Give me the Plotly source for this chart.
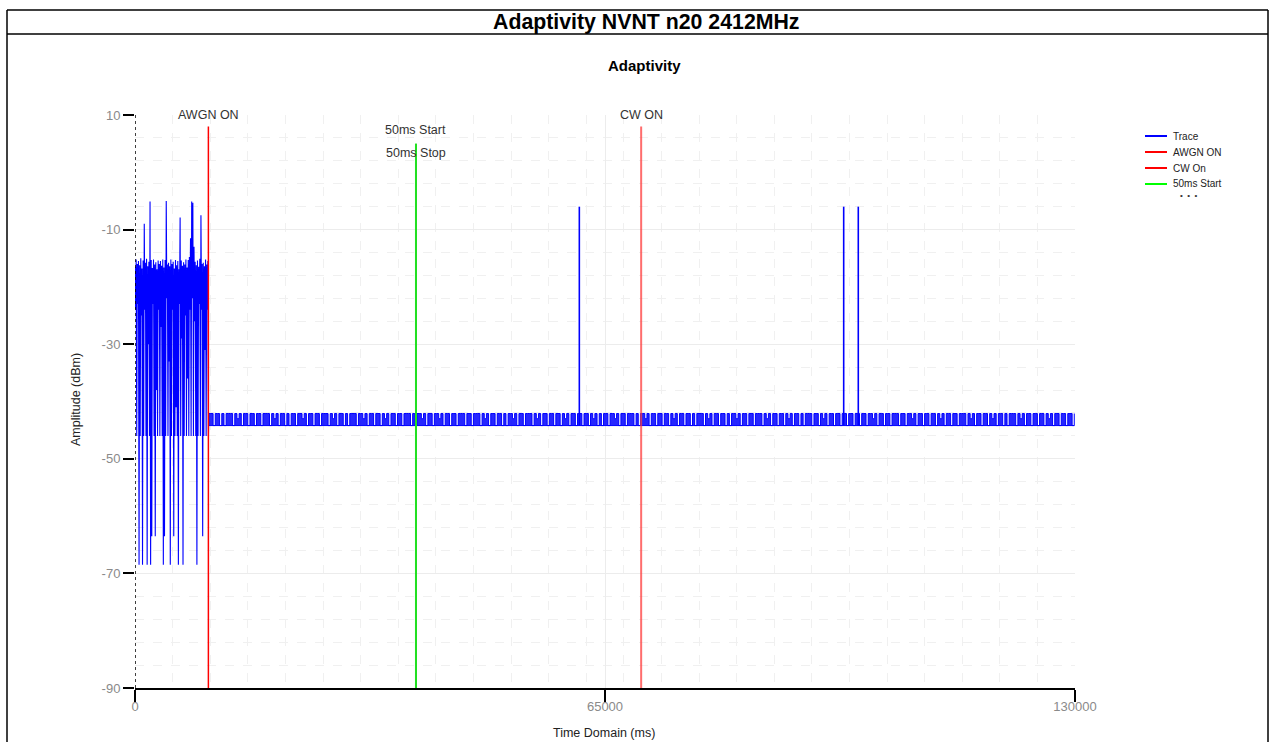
import plotly.graph_objects as go

# ---------------- data ----------------
# Trace: AWGN segment (sampled every 80 ms from 0 ms)
AWGN_STEP_MS = 80
awgn_amp = [
    -16.5, -24, -15.2, -46, -16, -23, -15.5, -68.5, -16.2, -46,
    -15, -25, -16.8, -68.5, -15.4, -46, -9, -24, -15.8, -46,
    -15.1, -68.5, -16.4, -30, -15.6, -46, -5.1, -68.5, -15.3, -63.5,
    -16.7, -23, -15.2, -46, -16.1, -63.5, -15.7, -38, -16.9, -46,
    -15.4, -24, -16, -46, -15.5, -27, -16.3, -46, -15.2, -68.5,
    -16.6, -63.5, -15.3, -46, -5, -22, -16.1, -46, -15.8, -33,
    -16.4, -68.5, -15.2, -46, -16, -24, -15.6, -63.5, -16.8, -46,
    -15.3, -41, -16.2, -46, -15.5, -68.5, -16.9, -23, -7.9, -46,
    -15.4, -29, -16.3, -68.5, -15.7, -46, -16.1, -25, -15.2, -46,
    -16.6, -36, -15.3, -46, -14.8, -24, -11.5, -46, -5.1, -22,
    -5.3, -46, -13, -26, -15.6, -46, -16.2, -68.5, -15.4, -46,
    -16.5, -23, -15.1, -46, -7.5, -24, -16, -63.5, -15.8, -46,
    -16.4, -31, -15.2, -46, -16.1, -24, -15.5, -46,
]

# Trace: idle segment (sampled every 300 ms from 10200 ms)
IDLE_START_MS = 10200
IDLE_STEP_MS = 300
idle_amp = [
    -42.1, -42.1, -44.2, -42.1, -42.1, -44.2, -42.1, -44.2, -42.1, -42.1, -42.1, -44.2, -42.1, -43.0, -42.1, -44.2, -42.1, -42.1, -44.2, -42.1,
    -42.1, -44.2, -42.1, -42.1, -44.2, -42.1, -42.1, -42.1, -44.2, -42.1, -43.0, -42.1, -44.2, -42.1, -42.1, -44.2, -42.1, -44.2, -42.1, -42.1,
    -44.2, -42.1, -42.1, -43.0, -42.1, -44.2, -42.1, -42.1, -44.2, -42.1, -42.1, -44.2, -42.1, -42.1, -42.1, -44.2, -42.1, -43.0, -42.1, -44.2,
    -42.1, -42.1, -44.2, -42.1, -44.2, -42.1, -42.1, -42.1, -44.2, -42.1, -42.1, -43.0, -42.1, -44.2, -42.1, -42.1, -44.2, -42.1, -42.1, -44.2,
    -42.1, -43.0, -42.1, -44.2, -42.1, -42.1, -44.2, -42.1, -42.1, -44.2, -42.1, -42.1, -42.1, -44.2, -42.1, -44.2, -42.1, -42.1, -43.0, -42.1,
    -44.2, -42.1, -42.1, -44.2, -42.1, -42.1, -43.0, -42.1, -44.2, -42.1, -42.1, -44.2, -42.1, -42.1, -44.2, -42.1, -42.1, -42.1, -44.2, -42.1,
    -42.1, -44.2, -42.1, -42.1, -42.1, -44.2, -42.1, -43.0, -42.1, -44.2, -42.1, -42.1, -44.2, -42.1, -42.1, -44.2, -42.1, -44.2, -42.1, -42.1,
    -43.0, -42.1, -44.2, -42.1, -42.1, -44.2, -42.1, -42.1, -42.1, -44.2, -42.1, -43.0, -42.1, -44.2, -42.1, -42.1, -44.2, -42.1, -42.1, -44.2,
    -42.1, -42.1, -44.2, -42.1, -43.0, -42.1, -44.2, -42.1, -42.1, -44.2, -42.1, -42.1, -44.2, -42.1, -42.1, -44.2, -42.1, -43.0, -42.1, -44.2,
    -42.1, -44.2, -42.1, -42.1, -44.2, -42.1, -42.1, -43.0, -42.1, -44.2, -42.1, -42.1, -44.2, -42.1, -42.1, -42.1, -44.2, -42.1, -44.2, -42.1,
    -42.1, -43.0, -42.1, -44.2, -42.1, -42.1, -44.2, -42.1, -42.1, -44.2, -42.1, -42.1, -44.2, -42.1, -43.0, -42.1, -44.2, -42.1, -42.1, -44.2,
    -42.1, -42.1, -44.2, -42.1, -44.2, -42.1, -42.1, -42.1, -44.2, -42.1, -43.0, -42.1, -44.2, -42.1, -42.1, -44.2, -42.1, -42.1, -44.2, -42.1,
    -44.2, -42.1, -42.1, -43.0, -42.1, -44.2, -42.1, -42.1, -44.2, -42.1, -42.1, -44.2, -42.1, -42.1, -42.1, -44.2, -42.1, -43.0, -42.1, -44.2,
    -42.1, -42.1, -44.2, -42.1, -42.1, -44.2, -42.1, -43.0, -42.1, -44.2, -42.1, -42.1, -44.2, -42.1, -44.2, -42.1, -42.1, -42.1, -44.2, -42.1,
    -42.1, -44.2, -42.1, -43.0, -42.1, -44.2, -42.1, -42.1, -44.2, -42.1, -42.1, -44.2, -42.1, -42.1, -44.2, -42.1, -42.1, -44.2, -42.1, -42.1,
    -44.2, -42.1, -42.1, -44.2, -42.1, -42.1, -43.0, -42.1, -44.2, -42.1, -42.1, -44.2, -42.1, -42.1, -44.2, -42.1, -42.1, -42.1, -44.2, -42.1,
    -42.1, -44.2, -42.1, -42.1, -43.0, -42.1, -44.2, -42.1, -42.1, -44.2, -42.1, -42.1, -44.2, -42.1, -42.1, -44.2, -42.1, -43.0, -42.1, -44.2,
    -42.1, -42.1, -44.2, -42.1, -42.1, -44.2, -42.1, -42.1, -42.1, -44.2, -42.1, -43.0, -42.1, -44.2, -42.1, -42.1, -44.2, -42.1, -42.1, -44.2,
    -42.1, -43.0, -42.1, -44.2, -42.1, -42.1, -44.2, -42.1, -44.2, -42.1, -42.1, -42.1, -44.2, -42.1, -43.0, -42.1, -44.2, -42.1, -42.1, -44.2,
    -42.1, -42.1, -44.2, -42.1, -42.1, -44.2, -42.1, -43.0, -42.1, -44.2, -42.1, -42.1, -44.2, -42.1, -42.1, -44.2, -42.1, -42.1, -44.2, -42.1,
]

# Trace: short bursts during the idle phase
burst_times = [61450, 98010, 100030]
burst_peak = [-6.0, -6.0, -6.0]

# Marker lines
marker_names = ["AWGN ON", "CW On", "50ms Start", "50ms Stop"]
marker_labels = ["AWGN ON", "CW ON", "50ms Start", "50ms Stop"]
marker_x = [10150, 70000, 38860, 38860]
marker_top = [8, 8, 5, 5]
marker_label_y = [10, 10, 7.4, 3.4]
marker_colors = ["#ff0000", "rgba(255,60,60,0.75)", "#22e022", "#22e022"]
marker_widths = [1.5, 2, 2, 2]

# Legend (first four series are listed, the rest is elided)
legend_names = ["Trace", "AWGN ON", "CW On", "50ms Start"]
legend_colors = ["#0000ff", "#ff0000", "#ff0000", "#00ff00"]

# Axes
x_ticks = [0, 65000, 130000]
y_ticks = [-90, -70, -50, -30, -10, 10]

# ---------------- figure ----------------
W, H = 1271, 742
ML, MR, MT, MB = 135, 196, 115, 54
PW, PH = W - ML - MR, H - MT - MB


def xp(px):
    return (px - ML) / PW


def yp(py):
    return (H - MB - py) / PH


FONT = "Liberation Sans, Arial, sans-serif"
BLUE = "#0000ff"

awgn_times = [i * AWGN_STEP_MS for i in range(len(awgn_amp))]
idle_times = [IDLE_START_MS + i * IDLE_STEP_MS for i in range(len(idle_amp))]
idle_floor = min(idle_amp)

fig = go.Figure()
# AWGN-phase part of the trace
fig.add_trace(go.Scatter(x=awgn_times + idle_times[:1], y=awgn_amp + idle_amp[:1],
                         mode="lines", name="Trace",
                         line=dict(color=BLUE, width=1.1, simplify=False),
                         showlegend=False, hoverinfo="skip"))
# floor of the idle noise (used as fill reference)
fig.add_trace(go.Scatter(x=[idle_times[0], idle_times[-1]], y=[idle_floor, idle_floor],
                         mode="lines", line=dict(color=BLUE, width=1),
                         showlegend=False, hoverinfo="skip"))
# idle part of the trace (dense noise drawn as filled steps)
fig.add_trace(go.Scatter(x=idle_times, y=idle_amp, mode="lines", name="Trace",
                         line=dict(color=BLUE, width=1, shape="hv", simplify=False),
                         fill="tonexty", fillcolor="rgba(0,0,255,0.85)",
                         showlegend=False, hoverinfo="skip"))
# bursts
bx, by = [], []
for t, p in zip(burst_times, burst_peak):
    bx += [t, t, None]
    by += [idle_floor, p, None]
fig.add_trace(go.Scatter(x=bx, y=by, mode="lines", name="Trace",
                         line=dict(color=BLUE, width=1.6), showlegend=False,
                         hoverinfo="skip", connectgaps=False))

for name, mx, top, col, wd in zip(marker_names, marker_x, marker_top, marker_colors, marker_widths):
    fig.add_trace(go.Scatter(x=[mx, mx], y=[-90, top], mode="lines", name=name,
                             line=dict(color=col, width=wd), showlegend=False,
                             hoverinfo="skip"))

for lab, mx, ly in zip(marker_labels, marker_x, marker_label_y):
    fig.add_annotation(x=mx, y=ly, xref="x", yref="y", text=lab, showarrow=False,
                       font=dict(family=FONT, size=12.5, color="#333333"),
                       xanchor="center", yanchor="middle")

# legend drawn at fixed pixel positions
for k, (name, col) in enumerate(zip(legend_names, legend_colors)):
    py = 136 + 16 * k
    fig.add_shape(type="line", xref="paper", yref="paper", x0=xp(1145), x1=xp(1167),
                  y0=yp(py), y1=yp(py), line=dict(color=col, width=2))
    fig.add_annotation(x=xp(1171), y=yp(py), xref="paper", yref="paper", showarrow=False,
                       text=name, xanchor="left", yanchor="middle",
                       font=dict(family=FONT, size=10, color="#222222"))
fig.add_annotation(x=xp(1188), y=yp(195), xref="paper", yref="paper", showarrow=False,
                   text="•  •  •", xanchor="center", yanchor="middle",
                   font=dict(family=FONT, size=8, color="#333333"))

# dotted y axis line
fig.add_shape(type="line", xref="x", yref="y", x0=0, x1=0, y0=-90, y1=10,
              line=dict(color="black", width=1.5, dash="dot"), layer="above")

# frame & title
frame_col = "black"
fig.add_shape(type="line", xref="paper", yref="paper", x0=xp(7), x1=xp(1268), y0=yp(10), y1=yp(10),
              line=dict(color=frame_col, width=1.5))
fig.add_shape(type="line", xref="paper", yref="paper", x0=xp(7), x1=xp(1268), y0=yp(34), y1=yp(34),
              line=dict(color=frame_col, width=1.5))
fig.add_shape(type="line", xref="paper", yref="paper", x0=xp(7), x1=xp(7), y0=yp(10), y1=yp(745),
              line=dict(color=frame_col, width=1.5))
fig.add_shape(type="line", xref="paper", yref="paper", x0=xp(1268), x1=xp(1268), y0=yp(10), y1=yp(745),
              line=dict(color=frame_col, width=1.5))

fig.add_annotation(x=xp(646), y=yp(22), xref="paper", yref="paper", showarrow=False,
                   text="<b>Adaptivity NVNT n20 2412MHz</b>", xanchor="center", yanchor="middle",
                   font=dict(family=FONT, size=21.3, color="black"))
fig.add_annotation(x=xp(644), y=yp(66), xref="paper", yref="paper", showarrow=False,
                   text="<b>Adaptivity</b>", xanchor="center", yanchor="middle",
                   font=dict(family=FONT, size=15, color="black"))
fig.add_annotation(x=xp(604), y=yp(733), xref="paper", yref="paper", showarrow=False,
                   text="Time Domain (ms)", xanchor="center", yanchor="middle",
                   font=dict(family=FONT, size=12.5, color="#222222"))
fig.add_annotation(x=xp(76), y=yp(400), xref="paper", yref="paper", showarrow=False,
                   text="Amplitude (dBm)", textangle=-90, xanchor="center", yanchor="middle",
                   font=dict(family=FONT, size=12.5, color="#222222"))

fig.update_layout(
    width=W, height=H,
    margin=dict(l=ML, r=MR, t=MT, b=MB, pad=0),
    paper_bgcolor="white", plot_bgcolor="white",
    font=dict(family=FONT, color="#333333"),
    showlegend=False,
    xaxis=dict(range=[0, 130000], tickvals=x_ticks, ticktext=[str(v) for v in x_ticks],
               showline=True, linecolor="black", linewidth=2,
               ticks="outside", ticklen=12, tickwidth=1.5, tickcolor="black",
               ticklabelstandoff=-7,
               tickfont=dict(family=FONT, size=13, color="#8a8a8a"),
               showgrid=True, gridcolor="#ececec", gridwidth=1, zeroline=False,
               minor=dict(dtick=5200, tick0=0, showgrid=True, gridcolor="#f0f0f0",
                          griddash="dash", gridwidth=1, ticks="")),
    yaxis=dict(range=[-90, 10], tickvals=y_ticks, ticktext=[str(v) for v in y_ticks],
               showline=False,
               ticks="outside", ticklen=11, tickwidth=1.5, tickcolor="black",
               tickfont=dict(family=FONT, size=13, color="#8a8a8a"),
               showgrid=True, gridcolor="#ececec", gridwidth=1, zeroline=False,
               minor=dict(dtick=4, tick0=-90, showgrid=True, gridcolor="#f0f0f0",
                          griddash="dash", gridwidth=1, ticks="")),
)

fig.write_html("out.html")
